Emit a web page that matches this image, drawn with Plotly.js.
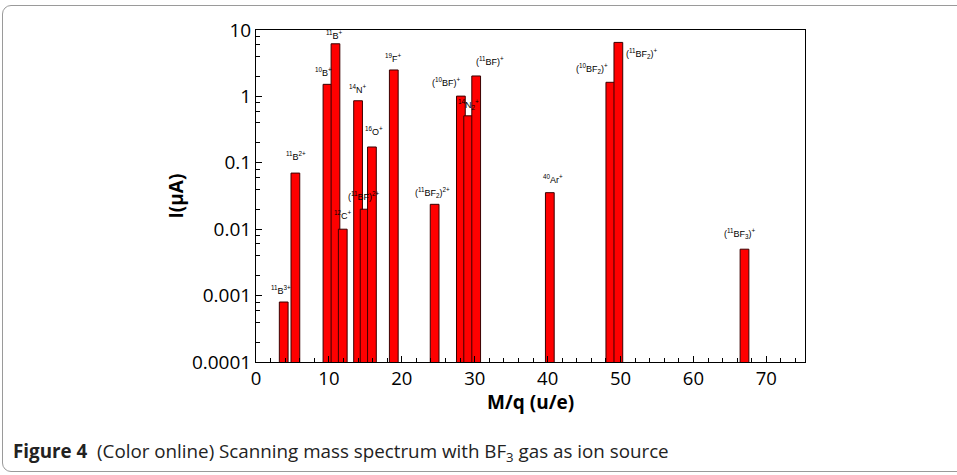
<!DOCTYPE html>
<html>
<head>
<meta charset="utf-8">
<script src="https://cdn.plot.ly/plotly-3.0.1.min.js"></script>
<style>
  html, body { margin: 0; padding: 0; background: #fff; overflow: hidden; }
  #frame { position: absolute; left: 2px; top: 5px; width: 1000px; height: 467px;
           border: 1px solid #9a9a9a; border-radius: 9px; box-sizing: border-box; }
  #chart { position: absolute; left: 0; top: 0; width: 957px; height: 475px; }
</style>
</head>
<body>
<div id="frame"></div>
<div id="chart"></div>
<script>
// ---- data ----
const massToCharge = [3.8, 5.4, 9.8, 10.9, 11.9, 14.0, 14.9, 15.9, 18.9, 24.5, 28.1, 29.1, 30.2, 40.3, 48.6, 49.7, 67.0];
const currentMicroA = [0.0008, 0.07, 1.52, 6.2, 0.01, 0.86, 0.02, 0.173, 2.5, 0.0237, 1.01, 0.51, 2.03, 0.0355, 1.63, 6.5, 0.005];
const ionLabels = [
  "<sup>11</sup>B<sup>3+</sup>",
  "<sup>11</sup>B<sup>2+</sup>",
  "<sup>10</sup>B<sup>+</sup>",
  "<sup>11</sup>B<sup>+</sup>",
  "<sup>12</sup>C<sup>+</sup>",
  "<sup>14</sup>N<sup>+</sup>",
  "(<sup>11</sup>BF)<sup>2+</sup>",
  "<sup>16</sup>O<sup>+</sup>",
  "<sup>19</sup>F<sup>+</sup>",
  "(<sup>11</sup>BF<sub>2</sub>)<sup>2+</sup>",
  "(<sup>10</sup>BF)<sup>+</sup>",
  "<sup>14</sup>N<sub>2</sub><sup>+</sup>",
  "(<sup>11</sup>BF)<sup>+</sup>",
  "<sup>40</sup>Ar<sup>+</sup>",
  "(<sup>10</sup>BF<sub>2</sub>)<sup>+</sup>",
  "(<sup>11</sup>BF<sub>2</sub>)<sup>+</sup>",
  "(<sup>11</sup>BF<sub>3</sub>)<sup>+</sup>"
];
const xTickVals = [0, 10, 20, 30, 40, 50, 60, 70];
const yTickVals = [0.0001, 0.001, 0.01, 0.1, 1, 10];
const yTickText = ["0.0001", "0.001", "0.01", "0.1", "1", "10"];

// ---- label placement (pixel offsets from bar tops; styling only) ----
const labelShift = [
  [-3, 4], [1, 9], [-4, 4], [-1, 1], [0, 6], [0, 4], [-1, 5], [2, 8], [0, 4],
  [-2, 3], [-14, 6], [0, 3], [14, 7], [3, 6], [-18, 5], [24, -20], [-4, 7]
];

const yMinor = [];
for (let e = -4; e <= 0; e++) {
  [2, 4, 6, 8].forEach(m => yMinor.push(m * Math.pow(10, e)));
}

const axisFont = 'Open Sans, Noto Sans, sans-serif';

const annotations = ionLabels.map((t, i) => ({
  x: massToCharge[i], y: Math.log10(currentMicroA[i]), xref: 'x', yref: 'y',
  text: t, showarrow: false, xanchor: 'center', yanchor: 'bottom',
  xshift: labelShift[i][0], yshift: labelShift[i][1],
  font: {family: 'Liberation Sans, Arial, sans-serif', size: 9, color: '#000'}
}));

// x-axis title (placed as annotation to sit tight under the tick labels)
annotations.push({
  xref: 'paper', yref: 'paper', x: 0.5, y: -0.12, xanchor: 'center', yanchor: 'middle',
  showarrow: false, text: '<b>M/q (u/e)</b>',
  font: {family: axisFont, size: 19, color: '#000'}
});

annotations.push({
  xref: 'paper', yref: 'paper', x: -0.447, y: -0.271, xanchor: 'left', yanchor: 'middle',
  showarrow: false, align: 'left',
  text: '<b>Figure 4</b>&nbsp;&nbsp;(Color online) Scanning mass spectrum with BF<sub>3</sub> gas as ion source',
  font: {family: 'Open Sans, Noto Sans, sans-serif', size: 18.8, color: '#222'}
});

const trace = {
  type: 'bar', x: massToCharge, y: currentMicroA, width: 1.2,
  marker: {color: '#ff0000', line: {color: '#3a0000', width: 1}},
  hoverinfo: 'skip'
};

const layout = {
  width: 957, height: 475,
  margin: {l: 256, r: 152, t: 30, b: 113},
  paper_bgcolor: 'rgba(0,0,0,0)', plot_bgcolor: '#fff',
  showlegend: false, bargap: 0,
  xaxis: {
    range: [0, 75.3], tickmode: 'array', tickvals: xTickVals,
    ticks: 'inside', ticklen: 6, tickcolor: '#000', tickwidth: 1,
    minor: {dtick: 2, tick0: 0, ticks: 'inside', ticklen: 4, tickcolor: '#000'},
    showline: true, linecolor: '#000', linewidth: 1, mirror: true,
    showgrid: false, zeroline: false,
    tickfont: {family: axisFont, size: 18.5, color: '#000'}
  },
  yaxis: {
    type: 'log', range: [-4, 1], tickmode: 'array', tickvals: yTickVals, ticktext: yTickText,
    ticks: 'inside', ticklen: 6, tickcolor: '#000', tickwidth: 1,
    minor: {tickmode: 'array', tickvals: yMinor, ticks: 'inside', ticklen: 4, tickcolor: '#000'},
    showline: true, linecolor: '#000', linewidth: 1, mirror: true,
    showgrid: false, zeroline: false,
    tickfont: {family: axisFont, size: 19, color: '#000'},
    title: {text: '<b>I(μA)</b>', standoff: 3,
            font: {family: axisFont, size: 19, color: '#000'}}
  },
  annotations: annotations
};

Plotly.newPlot('chart', [trace], layout, {displayModeBar: false, staticPlot: true});
</script>
</body>
</html>
